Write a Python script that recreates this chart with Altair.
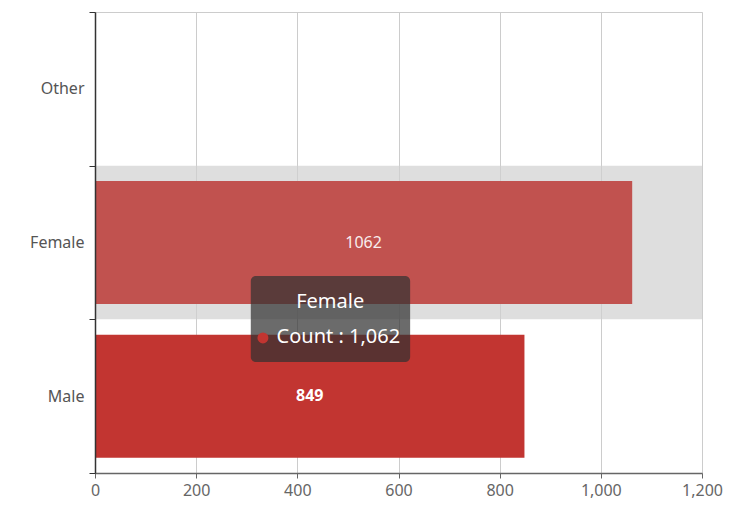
import altair as alt
import pandas as pd

# ---- data ----
categories = ["Other", "Female", "Male"]
counts = [0, 1062, 849]
bar_colors = ["#c23531", "#c1524f", "#c23531"]
label_weights = ["normal", "normal", "bold"]
x_ticks = [0, 200, 400, 600, 800, 1000, 1200]
highlighted = "Female"
tooltip_title = "Female"
tooltip_text = "Count : 1,062"

FONT = "Noto Sans"

df = pd.DataFrame({"gender": categories, "count": counts,
                   "color": bar_colors, "weight": label_weights})

yscale = alt.Scale(domain=categories, paddingInner=0, paddingOuter=0)
y_enc = alt.Y("gender:N", sort=categories, scale=yscale,
              axis=alt.Axis(title=None, tickBand="extent", labelFont=FONT,
                            labelFontSize=16, labelColor="#555", tickSize=6,
                            tickColor="#333", domainColor="#333", domainWidth=1.5,
                            labelPadding=5, grid=False))
xscale = alt.Scale(domain=[x_ticks[0], x_ticks[-1]], nice=False)
x_axis = alt.Axis(title=None, values=x_ticks, format=",.0f", grid=True, gridColor="#cccccc",
                  labelFont=FONT, labelFontSize=16, labelColor="#666",
                  tickSize=5, tickColor="#666", domainColor="#666", domainWidth=1.5,
                  labelPadding=4, labelFlush=False)


def X(field):
    return alt.X(field, scale=xscale, axis=x_axis)


base = alt.Chart(df)

band = alt.Chart(pd.DataFrame({"gender": [highlighted], "x0": [x_ticks[0]], "x1": [x_ticks[-1]]})).mark_rect(
    color="#d0d0d0", opacity=0.7
).encode(y=y_enc, x=X("x0:Q"), x2="x1:Q")

bars = base.mark_bar(height=alt.RelativeBandSize(0.8)).encode(
    y=y_enc, x=X("count:Q"),
    color=alt.Color("color:N", scale=None)
)

labels_n = base.transform_filter("datum.count > 0 && datum.weight == 'normal'").transform_calculate(
    mid="datum.count / 2").mark_text(font=FONT, fontSize=16, color="white", opacity=0.9).encode(
    y=y_enc, x=X("mid:Q"), text="count:Q")
labels_b = base.transform_filter("datum.count > 0 && datum.weight == 'bold'").transform_calculate(
    mid="datum.count / 2").mark_text(font=FONT, fontSize=16, fontWeight="bold", color="white").encode(
    y=y_enc, x=X("mid:Q"), text="count:Q")

main = alt.layer(band, bars, labels_n, labels_b)

# ---- overlay: the hover tooltip, placed on a hidden 0..3 row scale ----
oy = alt.Scale(domain=[0, 3], nice=False, zero=False)
tip_box = alt.Chart(pd.DataFrame({"x0": [308], "x1": [623], "y0": [0.722], "y1": [1.282]})).mark_rect(
    color="#323232", opacity=0.72, cornerRadius=5
).encode(x=X("x0:Q"), x2="x1:Q",
         y=alt.Y("y0:Q", scale=oy, axis=None), y2="y1:Q")
tip_title = alt.Chart(pd.DataFrame({"x": [465], "y": [1.113], "t": [tooltip_title]})).mark_text(
    font=FONT, fontSize=20, color="white", align="center", baseline="middle"
).encode(x=X("x:Q"), y=alt.Y("y:Q", scale=oy, axis=None), text="t:N")
tip_dot = alt.Chart(pd.DataFrame({"x": [332], "y": [0.879]})).mark_point(
    filled=True, shape="circle", size=120, color="#c23531", opacity=1
).encode(x=X("x:Q"), y=alt.Y("y:Q", scale=oy, axis=None))
tip_text = alt.Chart(pd.DataFrame({"x": [359], "y": [0.885], "t": [tooltip_text]})).mark_text(
    font=FONT, fontSize=20, color="white", align="left", baseline="middle"
).encode(x=X("x:Q"), y=alt.Y("y:Q", scale=oy, axis=None), text="t:N")

overlay = alt.layer(tip_box, tip_title, tip_dot, tip_text)

chart = alt.layer(main, overlay).resolve_scale(y="independent").properties(
    width=607, height=461,
    autosize=alt.AutoSizeParams(type="none"),
    padding={"left": 87, "top": 4, "right": 21, "bottom": 32},
).configure_view(stroke="#cccccc")

chart.save("out.html", embed_options={"renderer": "svg", "actions": False})
